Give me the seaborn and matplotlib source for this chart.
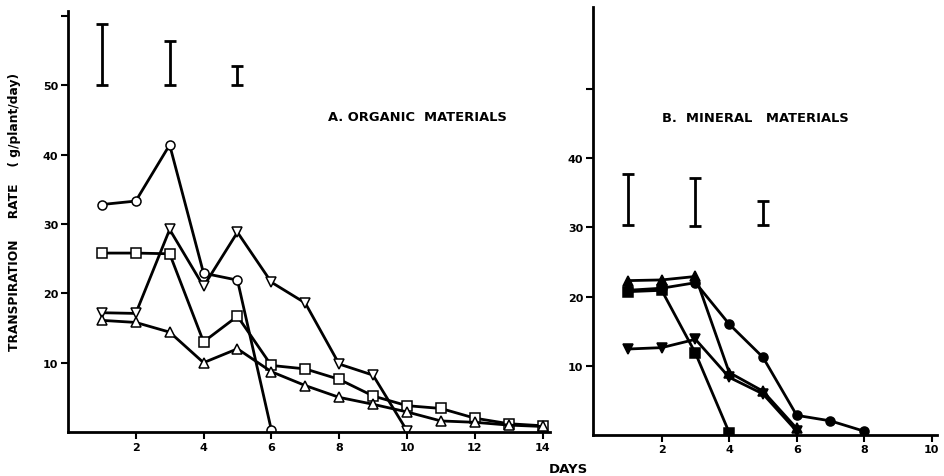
import numpy as np
import pandas as pd
import seaborn as sns
import matplotlib.pyplot as plt

# --- data ---
# A. organic materials (open symbols)
days_a = list(range(1, 15))
circle_a_days = [1, 2, 3, 4, 5, 6]
circle_a = [32.8, 33.3, 41.4, 22.9, 21.9, 0.3]
invtri_a_days = [1, 2, 3, 4, 5, 6, 7, 8, 9, 10]
invtri_a = [17.2, 17.1, 29.2, 21.0, 28.8, 21.6, 18.6, 9.8, 8.2, 0.2]
square_a = [25.8, 25.8, 25.7, 13.0, 16.7, 9.6, 9.1, 7.6, 5.2, 3.8, 3.4, 2.0, 1.2, 0.9]
tri_a = [16.1, 15.8, 14.4, 10.0, 12.0, 8.7, 6.7, 5.0, 4.0, 2.9, 1.6, 1.4, 1.0, 0.8]

# B. mineral materials (filled symbols)
tri_b_days = [1, 2, 3, 4, 5, 6]
tri_b = [22.3, 22.4, 22.9, 9.0, 6.3, 0.9]
circle_b_days = [1, 2, 3, 4, 5, 6, 7, 8]
circle_b = [20.9, 21.2, 22.0, 16.0, 11.2, 2.8, 2.0, 0.5]
square_b_days = [1, 2, 3, 4]
square_b = [20.7, 20.9, 11.8, 0.3]
invtri_b_days = [1, 2, 3, 4, 5, 6]
invtri_b = [12.4, 12.6, 13.8, 8.3, 5.9, 0.5]

# LSD-type bars (day, low, high)
bar_days = [1, 3, 5]
bar_low_a = [50.0, 50.0, 50.0]
bar_high_a = [58.8, 56.4, 52.8]
bar_low_b = [30.3, 30.2, 30.3]
bar_high_b = [37.8, 37.1, 33.8]

sns.set_style("ticks")
plt.rcParams['font.family'] = ['DejaVu Sans']
plt.rcParams['font.weight'] = 'bold'
plt.rcParams['text.color'] = 'black'
plt.rcParams['axes.edgecolor'] = 'black'
plt.rcParams['axes.labelcolor'] = 'black'
plt.rcParams['xtick.color'] = 'black'
plt.rcParams['ytick.color'] = 'black'

fig = plt.figure(figsize=(9.44, 4.77), dpi=100)
ax1 = fig.add_axes([0.072, 0.0922, 0.5106, 0.8826])
ax2 = fig.add_axes([0.628, 0.0866, 0.3644, 0.8966])

line_kw = dict(color='k', linewidth=2, markersize=6.5, markeredgewidth=1.1,
               markeredgecolor='k')

# panel A
series_a = [
    (circle_a_days, circle_a, 'o'),
    (invtri_a_days, invtri_a, 'v'),
    (days_a, square_a, 's'),
    (days_a, tri_a, '^'),
]
for d, v, m in series_a:
    sns.lineplot(x=d, y=v, marker=m, markerfacecolor='white', ax=ax1, **line_kw)

# panel B
series_b = [
    (tri_b_days, tri_b, '^'),
    (circle_b_days, circle_b, 'o'),
    (square_b_days, square_b, 's'),
    (invtri_b_days, invtri_b, 'v'),
]
for d, v, m in series_b:
    sns.lineplot(x=d, y=v, marker=m, markerfacecolor='k', ax=ax2, **line_kw)

for ax, lo, hi in [(ax1, bar_low_a, bar_high_a), (ax2, bar_low_b, bar_high_b)]:
    lo = np.array(lo)
    hi = np.array(hi)
    ax.errorbar(bar_days, (lo + hi) / 2, yerr=(hi - lo) / 2, fmt='none',
                ecolor='k', elinewidth=2, capsize=4, capthick=2)

ax1.set_xlim(0, 14.22)
ax1.set_ylim(0, 60.7)
ax1.set_xticks([2, 4, 6, 8, 10, 12, 14])
ax1.set_yticks([10, 20, 30, 40, 50, 60])
ax1.set_yticklabels(['10', '20', '30', '40', '50', ''])

ax2.set_xlim(-0.04, 10.15)
ax2.set_ylim(0, 61.9)
ax2.set_xticks([2, 4, 6, 8, 10])
ax2.set_yticks([10, 20, 30, 40, 50])
ax2.set_yticklabels(['10', '20', '30', '40', ''])

for ax in (ax1, ax2):
    sns.despine(ax=ax)
    for s in ('left', 'bottom'):
        ax.spines[s].set_linewidth(2)
    ax.tick_params(direction='out', length=5, width=1.5, labelsize=8, pad=2)
    for lab in ax.get_xticklabels() + ax.get_yticklabels():
        lab.set_fontweight('bold')

ax1.text(10.3, 45.5, 'A. ORGANIC  MATERIALS', ha='center', va='center',
         fontsize=9.4, fontweight='bold')
ax2.text(4.78, 45.9, 'B.  MINERAL   MATERIALS', ha='center', va='center',
         fontsize=9.4, fontweight='bold')

ax1.set_ylabel('TRANSPIRATION     RATE    ( g/plant/day)', fontsize=8.8,
               fontweight='bold')
ax1.yaxis.set_label_coords(-0.098, 0.525)
fig.text(568 / 944, 1 - 470 / 477, 'DAYS', ha='center', va='center',
         fontsize=9.5, fontweight='bold')

fig.savefig('out.png', dpi=100)
